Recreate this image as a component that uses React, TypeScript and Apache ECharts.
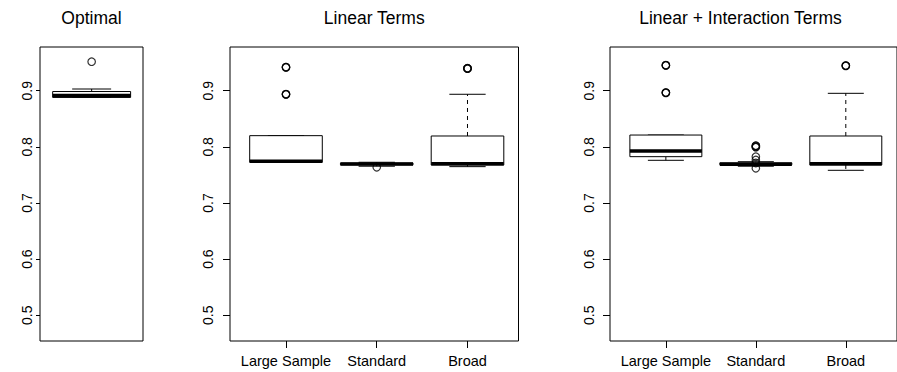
import React, { useEffect, useRef } from "react";
import * as echarts from "echarts";

const panelTitles = ["Optimal", "Linear Terms", "Linear + Interaction Terms"];
const categories = ["Large Sample", "Standard", "Broad"];
const yTickValues = [0.5, 0.6, 0.7, 0.8, 0.9];
const xTickValues = [1, 2, 3];

// [position, lower whisker, Q1, median, Q3, upper whisker]
const optimalBoxes = [[1, 0.888, 0.888, 0.8915, 0.8985, 0.903]];
const linearBoxes = [
  [1, 0.7725, 0.7725, 0.7743, 0.8199, 0.8199],
  [2, 0.7655, 0.768, 0.7695, 0.771, 0.7725],
  [3, 0.7647, 0.7677, 0.77, 0.8193, 0.8936],
];
const interactionBoxes = [
  [1, 0.776, 0.7825, 0.7926, 0.821, 0.821],
  [2, 0.7655, 0.768, 0.769, 0.7715, 0.7735],
  [3, 0.7582, 0.7677, 0.77, 0.8193, 0.8953],
];

// [position, value] (repeated values overlap)
const optimalOutliers = [[1, 0.9516]];
const linearOutliers = [
  [1, 0.9417], [1, 0.942], [1, 0.9414],
  [1, 0.8936], [1, 0.8939], [1, 0.8933],
  [2, 0.7636],
  [3, 0.9395], [3, 0.9398], [3, 0.9392], [3, 0.94],
];
const interactionOutliers = [
  [1, 0.9452], [1, 0.9455], [1, 0.9449],
  [1, 0.8964], [1, 0.8967], [1, 0.8961],
  [2, 0.802], [2, 0.8017], [2, 0.7995], [2, 0.7998],
  [2, 0.7825], [2, 0.7766], [2, 0.7712], [2, 0.7618],
  [3, 0.9445], [3, 0.9448], [3, 0.9442],
];

const FONT = "'Liberation Sans', Arial, Helvetica, sans-serif";

function renderBox(params: any, api: any) {
  const x = api.value(0);
  const lo = api.value(1);
  const q1 = api.value(2);
  const med = api.value(3);
  const q3 = api.value(4);
  const hi = api.value(5);
  const c = (xx: number, yy: number) => api.coord([xx, yy]);
  const halfBox = 0.4;
  const halfCap = 0.2;
  const black = "#000";
  const children: any[] = [];
  const line = (a: number[], b: number[], style: any) => ({
    type: "line",
    shape: { x1: a[0], y1: a[1], x2: b[0], y2: b[1] },
    style: Object.assign({ stroke: black, lineWidth: 1 }, style),
  });
  if (hi > q3) children.push(line(c(x, q3), c(x, hi), { lineDash: [4, 4] }));
  if (lo < q1) children.push(line(c(x, q1), c(x, lo), { lineDash: [4, 4] }));
  children.push(line(c(x - halfCap, hi), c(x + halfCap, hi), {}));
  children.push(line(c(x - halfCap, lo), c(x + halfCap, lo), {}));
  const tl = c(x - halfBox, q3);
  const br = c(x + halfBox, q1);
  children.push({
    type: "rect",
    shape: { x: tl[0], y: tl[1], width: br[0] - tl[0], height: br[1] - tl[1] },
    style: { fill: "#fff", stroke: black, lineWidth: 1 },
  });
  children.push(line(c(x - halfBox, med), c(x + halfBox, med), { lineWidth: 3.5 }));
  return { type: "group", children };
}

export default function App() {
  const ref = useRef<HTMLDivElement>(null);
  useEffect(() => {
    if (!ref.current) return;
    const chart = echarts.init(ref.current, undefined, { renderer: "svg" });

    const grids = [
      { left: 40, top: 47, width: 103, height: 294 },
      { left: 230, top: 47, width: 288.5, height: 294 },
      { left: 610, top: 47, width: 289, height: 294 },
    ];
    const xRanges = [
      [0.47, 1.527],
      [0.383, 3.562],
      [0.379, 3.569],
    ];
    const yMin = 0.4542;
    const yMax = 0.9778;
    const boxSets = [optimalBoxes, linearBoxes, interactionBoxes];
    const outlierSets = [optimalOutliers, linearOutliers, interactionOutliers];
    const yLabelMargins = [6, 15, 14];
    const yTickLens = [4, 7, 7];

    const option: any = {
      animation: false,
      backgroundColor: "#fff",
      title: panelTitles.map((t, i) => ({
        text: t,
        left: grids[i].left + grids[i].width / 2 - (i === 2 ? 14 : 0),
        top: 9,
        textAlign: "center",
        padding: 0,
        textStyle: { fontFamily: FONT, fontSize: 17.5, fontWeight: "normal", color: "#000" },
      })),
      grid: grids.map((g) => ({
        ...g,
        show: true,
        borderColor: "#000",
        borderWidth: 1,
        backgroundColor: "transparent",
        containLabel: false,
      })),
      xAxis: grids.map((g, i) => ({
        type: "value",
        gridIndex: i,
        min: xRanges[i][0],
        max: xRanges[i][1],
        splitLine: { show: false },
        axisLine: { show: false },
        axisTick: {
          show: i > 0,
          length: 7,
          customValues: xTickValues,
          lineStyle: { color: "#000" },
        },
        axisLabel: {
          show: i > 0,
          customValues: xTickValues,
          margin: 12,
          fontFamily: FONT,
          fontSize: 14.5,
          color: "#000",
          formatter: (v: number) => categories[Math.round(v) - 1] || "",
        },
      })),
      yAxis: grids.map((g, i) => ({
        type: "value",
        gridIndex: i,
        min: yMin,
        max: yMax,
        splitLine: { show: false },
        axisLine: { show: false },
        axisTick: {
          show: true,
          length: yTickLens[i],
          customValues: yTickValues,
          lineStyle: { color: "#000" },
        },
        axisLabel: {
          show: true,
          customValues: yTickValues,
          rotate: 90,
          margin: yLabelMargins[i],
          fontFamily: FONT,
          fontSize: 14,
          color: "#000",
          formatter: (v: number) => v.toFixed(1),
        },
      })),
      series: [
        ...boxSets.map((data, i) => ({
          type: "custom",
          xAxisIndex: i,
          yAxisIndex: i,
          renderItem: renderBox,
          data,
          encode: { x: 0, y: [1, 2, 3, 4, 5] },
          z: 2,
        })),
        ...outlierSets.map((data, i) => ({
          type: "scatter",
          xAxisIndex: i,
          yAxisIndex: i,
          data,
          symbol: "circle",
          symbolSize: 7.5,
          itemStyle: { color: "rgba(0,0,0,0)", borderColor: "#000", borderWidth: 1.2 },
          z: 3,
        })),
      ],
    };
    chart.setOption(option);
    return () => chart.dispose();
  }, []);
  return (
    <div
      ref={ref}
      style={{ position: "absolute", left: 0, top: 0, width: 897, height: 372, overflow: "hidden" }}
    />
  );
}
